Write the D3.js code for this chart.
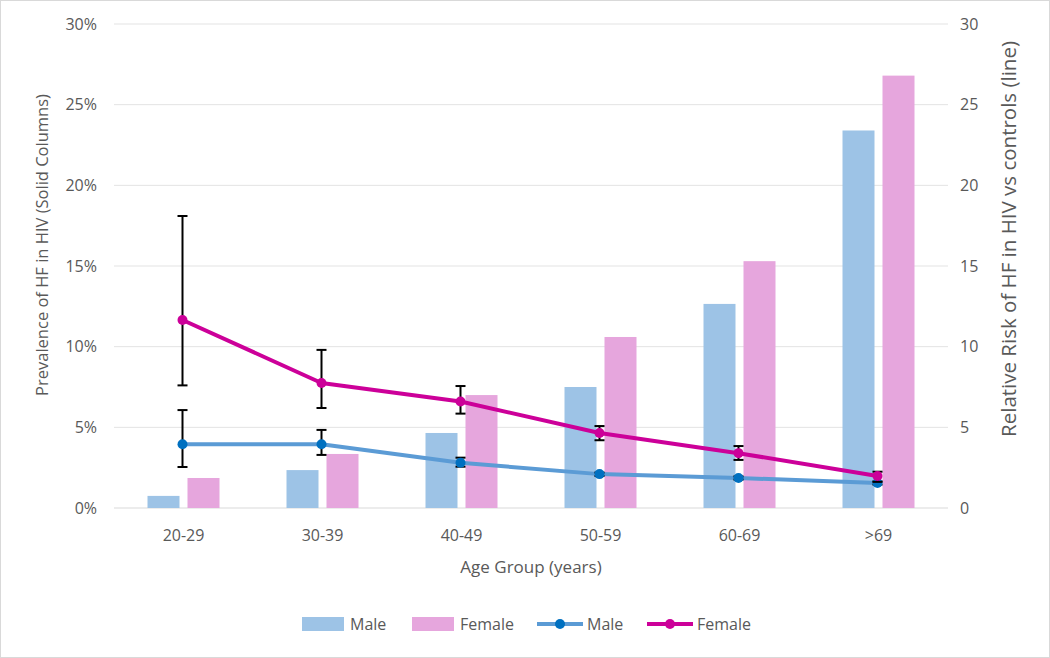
<!DOCTYPE html>
<html><head><meta charset="utf-8">
<script src="https://cdn.jsdelivr.net/npm/d3@7"></script>
<style>body{margin:0;background:#fff;}svg{display:block;font-family:"Open Sans","Liberation Sans",sans-serif;}</style>
</head><body><svg id="c" width="1050" height="658"></svg>
<script>
const categories = ["20-29","30-39","40-49","50-59","60-69",">69"];
const maleBar = [0.75, 2.35, 4.65, 7.5, 12.65, 23.4];
const femaleBar = [1.86, 3.35, 7.0, 10.6, 15.3, 26.8];
const maleRR = [3.95, 3.95, 2.8, 2.1, 1.86, 1.55];
const maleLo = [2.54, 3.29, 2.56, 1.98, 1.76, 1.45];
const maleHi = [6.07, 4.84, 3.12, 2.2, 1.96, 1.65];
const femaleRR = [11.65, 7.75, 6.6, 4.65, 3.4, 1.98];
const femaleLo = [7.6, 6.2, 5.85, 4.2, 2.98, 1.62];
const femaleHi = [18.1, 9.8, 7.56, 5.08, 3.84, 2.25];
const leftTicks = [0,5,10,15,20,25,30];
const rightTicks = [0,5,10,15,20,25,30];

const svg = d3.select("#c");
const L=114, R=948, T=24, B=508;
const gray="#595959";
svg.append("rect").attr("x",0.5).attr("y",0.5).attr("width",1049).attr("height",657).attr("fill","#fff").attr("stroke","#d9d9d9");

const x = d3.scaleBand().domain(categories).range([L,R]);
const yL = d3.scaleLinear().domain([0,30]).range([B,T]);
const yR = d3.scaleLinear().domain([0,30]).range([B,T]);

svg.append("g").selectAll("line").data(leftTicks).join("line")
  .attr("x1",L).attr("x2",R).attr("y1",d=>yL(d)).attr("y2",d=>yL(d))
  .attr("stroke",d=>d===0?"#d9d9d9":"#e3e3e3").attr("stroke-width",1);

svg.append("g").selectAll("text").data(leftTicks).join("text")
  .attr("x",97).attr("y",d=>yL(d)).attr("dy","0.35em").attr("text-anchor","end")
  .attr("fill",gray).attr("font-size",16).text(d=>d+"%");
svg.append("g").selectAll("text").data(rightTicks).join("text")
  .attr("x",960).attr("y",d=>yR(d)).attr("dy","0.35em").attr("text-anchor","start")
  .attr("fill",gray).attr("font-size",16).text(d=>d);

svg.append("g").selectAll("text").data(categories).join("text")
  .attr("x",d=>x(d)+x.bandwidth()/2).attr("y",535).attr("dy","0.35em").attr("text-anchor","middle")
  .attr("fill",gray).attr("font-size",16).text(d=>d);

svg.append("text").attr("x",(L+R)/2).attr("y",567).attr("dy","0.35em").attr("text-anchor","middle")
  .attr("fill",gray).attr("font-size",17).text("Age Group (years)");
svg.append("text").attr("transform",`translate(42,245) rotate(-90)`).attr("dy","0.35em").attr("text-anchor","middle")
  .attr("fill",gray).attr("font-size",16.5).text("Prevalence of HF in HIV (Solid Columns)");
svg.append("text").attr("transform",`translate(1009,239) rotate(-90)`).attr("dy","0.35em").attr("text-anchor","middle")
  .attr("fill",gray).attr("font-size",20.5).text("Relative Risk of HF in HIV vs controls (line)");

const bw=32, gap=8;
const mc="#9dc3e6", fc="#e6a6dd";
svg.append("g").selectAll("rect").data(categories).join("rect")
  .attr("x",d=>x(d)+x.bandwidth()/2-gap/2-bw).attr("width",bw)
  .attr("y",(d,i)=>yL(maleBar[i])).attr("height",(d,i)=>B-yL(maleBar[i])).attr("fill",mc);
svg.append("g").selectAll("rect").data(categories).join("rect")
  .attr("x",d=>x(d)+x.bandwidth()/2+gap/2).attr("width",bw)
  .attr("y",(d,i)=>yL(femaleBar[i])).attr("height",(d,i)=>B-yL(femaleBar[i])).attr("fill",fc);

const cx = d=>x(d)+x.bandwidth()/2-1;
function series(vals, lo, hi, lineColor, markColor){
  const g=svg.append("g");
  g.append("path").datum(categories).attr("fill","none").attr("stroke",lineColor).attr("stroke-width",4)
    .attr("stroke-linejoin","round")
    .attr("d",d3.line().x(d=>cx(d)).y((d,i)=>yR(vals[i])));
  categories.forEach((c,i)=>{
    const xx=cx(c);
    g.append("line").attr("x1",xx).attr("x2",xx).attr("y1",yR(lo[i])).attr("y2",yR(hi[i])).attr("stroke","#000").attr("stroke-width",2);
    [lo[i],hi[i]].forEach(v=>g.append("line").attr("x1",xx-5).attr("x2",xx+5).attr("y1",yR(v)).attr("y2",yR(v)).attr("stroke","#000").attr("stroke-width",2));
  });
  g.selectAll("circle").data(categories).join("circle").attr("cx",d=>cx(d)).attr("cy",(d,i)=>yR(vals[i])).attr("r",5).attr("fill",markColor);
}
series(maleRR, maleLo, maleHi, "#5b9bd5", "#0070c0");
series(femaleRR, femaleLo, femaleHi, "#cc0099", "#cc0099");

const ly=624;
const lg=svg.append("g");
lg.append("rect").attr("x",302).attr("y",ly-7).attr("width",42).attr("height",14).attr("fill",mc);
lg.append("text").attr("x",350).attr("y",ly).attr("dy","0.35em").attr("fill",gray).attr("font-size",16).text("Male");
lg.append("rect").attr("x",412).attr("y",ly-7).attr("width",42).attr("height",14).attr("fill",fc);
lg.append("text").attr("x",460).attr("y",ly).attr("dy","0.35em").attr("fill",gray).attr("font-size",16).text("Female");
[[537,"#5b9bd5","#0070c0","Male"],[647,"#cc0099","#cc0099","Female"]].forEach(([lx,lc,mk,t])=>{
  lg.append("line").attr("x1",lx).attr("x2",lx+46).attr("y1",ly).attr("y2",ly).attr("stroke",lc).attr("stroke-width",4);
  lg.append("circle").attr("cx",lx+23).attr("cy",ly).attr("r",5).attr("fill",mk);
  lg.append("text").attr("x",lx+50).attr("y",ly).attr("dy","0.35em").attr("fill",gray).attr("font-size",16).text(t);
});
</script></body></html>
